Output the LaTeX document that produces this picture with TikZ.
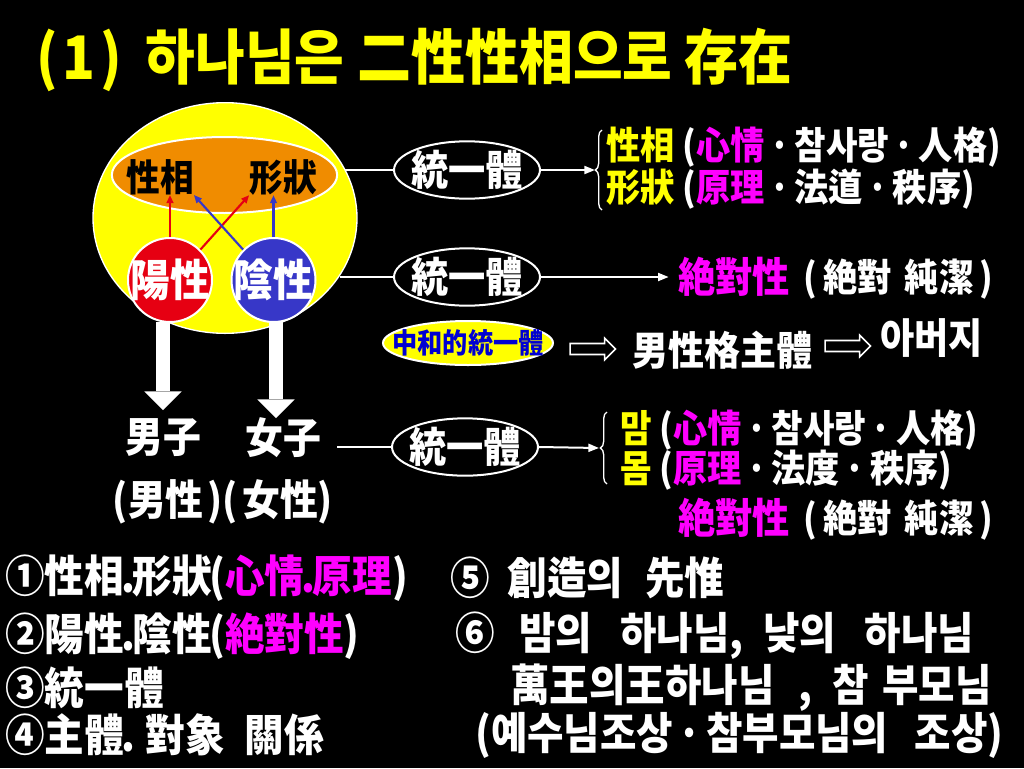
\documentclass[tikz,border=0pt]{standalone}
\usepackage{fontspec}
\setmainfont{Noto Sans CJK KR}[FakeStretch=0.9]
\usetikzlibrary{shapes.geometric,shapes.arrows,arrows.meta,decorations.pathreplacing}
\definecolor{myyel}{RGB}{255,255,0}
\definecolor{mymag}{RGB}{255,0,255}
\definecolor{myorg}{RGB}{240,140,0}
\definecolor{myred}{RGB}{230,0,18}
\definecolor{myblu}{RGB}{55,55,200}
\definecolor{txtblu}{RGB}{0,0,210}
\newcommand{\myfs}[1]{\fontsize{#1pt}{#1pt}\selectfont\bfseries}
\newcommand{\mg}[1]{\textcolor{mymag}{#1}}
\newcommand{\yl}[1]{\textcolor{myyel}{#1}}
\newcommand{\dt}{\kern.12em·\kern.12em}
\newcommand{\pd}{\kern-.06em.\kern-.06em}
\begin{document}
\begin{tikzpicture}[x=0.75pt,y=-0.75pt,
  txt/.style={text=white, inner sep=0pt},
  wline/.style={draw=white, line width=1.5pt},
  warr/.style={draw=white, line width=1.5pt, -{Triangle[length=8pt,width=6pt]}},
  rarr/.style={draw=myred, line width=1.6pt, -{Triangle[length=6pt,width=5pt]}},
  barr/.style={draw=myblu, line width=1.6pt, -{Triangle[length=6pt,width=5pt]}},
  unity/.style={ellipse, draw=white, line width=1.5pt, minimum width=109.5pt, minimum height=43pt, inner sep=0pt, text=white, font=\myfs{31}},
  bigarr/.style={draw=white, line width=11pt, -{Triangle[length=14pt,width=28pt,line width=0pt]}},
  hollow/.style={single arrow, draw=white, line width=1.2pt, minimum height=34pt, inner sep=3.5pt, single arrow head extend=4pt},
  wbrace/.style={draw=white, line width=1pt, decorate, decoration={brace, amplitude=5pt}},
  btxt/.style={txt, anchor=west, font=\myfs{33}},
  rtxt/.style={txt, anchor=west, font=\myfs{28.5}}
]
\fill[black] (0,0) rectangle (1024,768);
\useasboundingbox (0,0) rectangle (1024,768);

% title
\node[txt, text=myyel, anchor=west, font=\myfs{45}] (title) at (36,60) {(\kern.08em1\kern.08em)\kern.4em 하나님은 二性性相으로 存在};

% big circle
\node[ellipse, fill=myyel, draw=white, line width=1pt, minimum width=198pt, minimum height=173pt, inner sep=0pt] (circ) at (225,218) {};
\node[ellipse, fill=myorg, draw=white, line width=1.5pt, minimum width=169pt, minimum height=57pt, inner sep=0pt] (ell) at (224.5,175) {};
\node[txt, text=black, font=\myfs{28}] (sx) at (160,177) {性相};
\node[txt, text=black, font=\myfs{28}] (hs) at (283,177) {形狀};
\node[circle, fill=myred, draw=white, line width=1.5pt, minimum size=63pt, inner sep=0pt, text=white, font=\myfs{33}] (yang) at (170,280) {\makebox[0pt]{陽性}};
\node[circle, fill=myblu, draw=white, line width=1.5pt, minimum size=63pt, inner sep=0pt, text=white, font=\myfs{33}] (yin) at (273.5,280) {\makebox[0pt]{陰性}};
\draw[rarr] (yang.north) -- (yang.north |- sx.south);
\draw[rarr] (yang.45) -- (hs.south west);
\draw[barr] (yin.135) -- (sx.south east);
\draw[barr] (yin.north) -- (yin.north |- hs.south);

% unity ellipses
\node[unity] (u1) at (467,170) {\makebox[0pt]{統一體}};
\node[unity] (u2) at (467,277) {\makebox[0pt]{統一體}};
\node[unity] (u3) at (465,447) {\makebox[0pt]{統一體}};
\draw[wline] (circ.22 |- u1.west) -- (u1.west);
\draw[wline] (circ.-27.5 |- u2.west) -- (u2.west);

% first branch
\coordinate (b1tip) at (595,170);
\coordinate (br1t) at (602,130);
\coordinate (br1b) at (602,210);
\draw[warr] (u1.east) -- (b1tip);
\draw[wbrace] (br1b) -- (br1t);
\node[rtxt] (r1) at (606,147) {\yl{性相} (\mg{心情}\dt 참사랑\dt 人格)};
\node[rtxt] (r2) at (606,189) {\yl{形狀} (\mg{原理}\dt 法道\dt 秩序)};

% second branch
\node[txt, text=mymag, anchor=west, font=\myfs{31}] (abs) at (678,277) {絶對性};
\node[txt, anchor=west, font=\myfs{28.5}] (absp) at (803,279) {(\,絶對\hspace{.35em}純潔\,)};
\draw[warr, shorten >=7pt] (u2.east) -- (abs.west);

% neutral unity
\node[ellipse, fill=myyel, draw=white, line width=1.5pt, minimum width=127.5pt, minimum height=33pt, inner sep=0pt, text=txtblu, font=\myfs{21}] (ju) at (468,343) {\makebox[0pt]{中和的統一體}};
\node[hollow] (h1) at (590,349) {};
\node[txt, anchor=west, font=\myfs{30}] (man) at (632,350) {男性格主體};
\node[hollow] (h2) at (845,346) {};
\node[txt, anchor=west, font=\myfs{31}] (abj) at (880,338) {아버지};

% big arrows
\coordinate (a1s) at (163,322);
\coordinate (a1e) at (163,410);
\coordinate (a2s) at (276,322);
\coordinate (a2e) at (276,418);
\draw[bigarr] (a1s) -- (a1e);
\draw[bigarr] (a2s) -- (a2e);

\node[txt, font=\myfs{31.5}] (male) at (163,438) {男子};
\node[txt, font=\myfs{31.5}] (female) at (283,438) {女子};
\node[txt, font=\myfs{31.5}] (mf) at (223,502) {(男性\kern.1em)(\kern.1em女性)};
\draw[wline, shorten <=12pt] (female.east |- u3.west) -- (u3.west);

% third branch
\coordinate (b3tip) at (599,448);
\coordinate (br2t) at (607,412);
\coordinate (br2b) at (607,484);
\draw[warr] (u3.east) -- (b3tip);
\draw[wbrace] (br2b) -- (br2t);
\node[rtxt] (m1) at (620,430) {\yl{맘} (\mg{心情}\dt 참사랑\dt 人格)};
\node[rtxt] (m2) at (620,470) {\yl{몸} (\mg{原理}\dt 法度\dt 秩序)};
\node[txt, text=mymag, anchor=west, font=\myfs{31}] (abs2) at (678,518) {絶對性};
\node[txt, anchor=west, font=\myfs{28.5}] (absp2) at (803,520) {(\,絶對\hspace{.35em}純潔\,)};

% bottom list
\node[btxt] (l1) at (5,578) {①性相\pd 形狀\kern-.06em(\mg{心情\pd 原理})};
\node[btxt] (l5) at (450,578) {⑤\hspace{.4em}創造의\hspace{.5em}先惟};
\node[btxt] (l2) at (5,636) {②陽性\pd 陰性\kern-.06em(\mg{絶對性})};
\node[btxt] (l6) at (455,636) {⑥\hspace{.55em}밤의\hspace{.65em}하나님,\hspace{.45em}낮의\hspace{.65em}하나님};
\node[btxt] (l3) at (5,688) {③統一體};
\node[btxt] (l7) at (510,688) {萬王의王하나님\hspace{.55em},\hspace{.45em}참\hspace{.3em}부모님};
\node[btxt] (l4) at (5,735) {④主體\pd\hspace{.3em}對象\hspace{.45em}關係};
\node[btxt] (l8) at (475,735) {(예수님조상\kern.1em·\kern.1em참부모님의\hspace{.6em}조상)};
\end{tikzpicture}
\end{document}
